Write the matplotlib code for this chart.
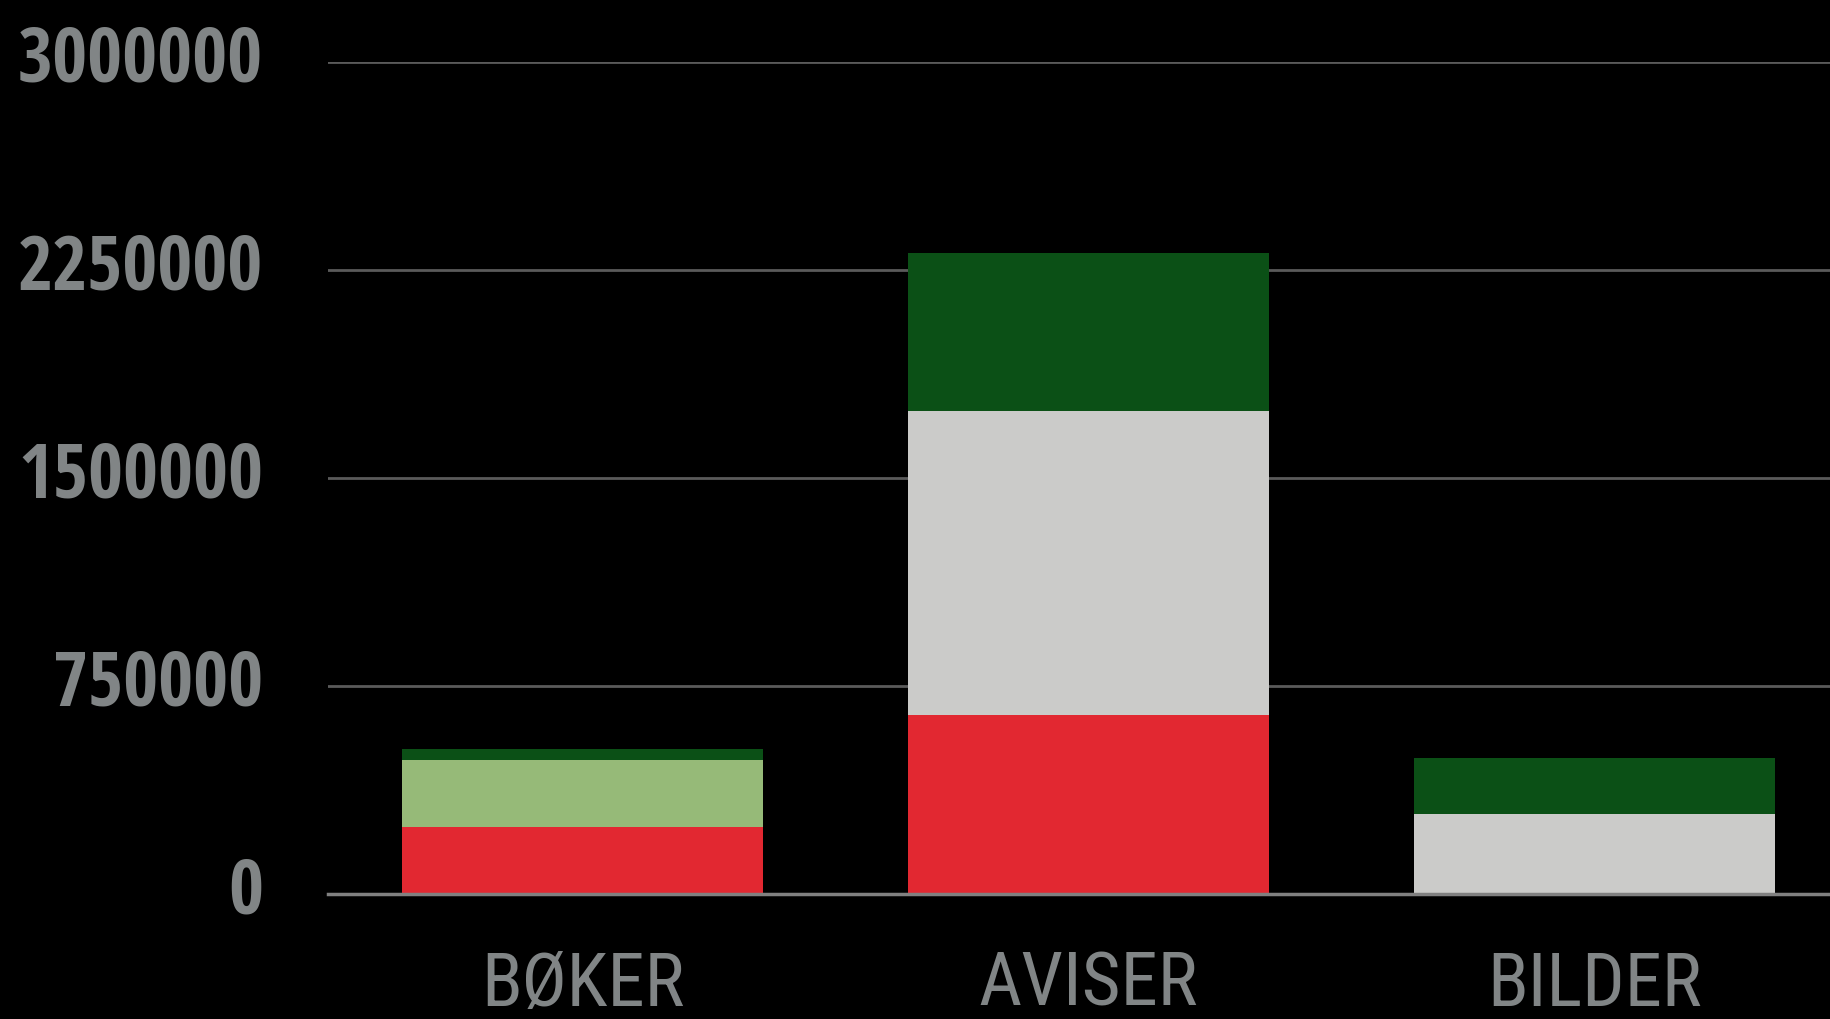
import matplotlib
matplotlib.use("Agg")
import os
import matplotlib.pyplot as plt
from matplotlib import font_manager as fm
from matplotlib.ft2font import FT2Font
from matplotlib.transforms import ScaledTranslation
import numpy as np

categories = ["BØKER", "AVISER", "BILDER"]
red_vals = [243000, 647000, 0]
lightgreen_vals = [242000, 0, 0]
gray_vals = [0, 1095000, 290000]
darkgreen_vals = [40000, 570000, 202000]
yticks = [0, 750000, 1500000, 2250000, 3000000]

series = [
    (red_vals, "#E22831"),
    (lightgreen_vals, "#96BA78"),
    (gray_vals, "#CBCBC9"),
    (darkgreen_vals, "#0B5016"),
]

fig = plt.figure(figsize=(18.31, 10.19), dpi=100, facecolor="black")
renderer = fig.canvas.get_renderer()

ALLOWED = ("DejaVu Sans", "Liberation Sans", "Noto Sans", "Roboto", "Open Sans", "Lato", "Inter")


def weight_num(w):
    return w if isinstance(w, (int, float)) else fm.weight_dict.get(w, 400)


def covers(fname, chars):
    try:
        cmap = FT2Font(fname).get_charmap()
    except Exception:
        return False
    return all(ord(c) in cmap for c in chars)


def fit_size(prop, text, target_w, target_cap_px):
    p = prop.copy()
    p.set_size(50)
    w, h, d = renderer.get_text_width_height_descent(text, p, ismath=False)
    size_w = 50 * target_w / w
    size_h = target_cap_px / 0.72 * 72 / 100
    return min(size_w, size_h)


def best_font(text, needed, target_w, target_cap, wmin, wmax):
    best = None
    seen = set()
    for f in fm.fontManager.ttflist:
        if f.fname in seen:
            continue
        seen.add(f.fname)
        if not f.name.startswith(ALLOWED):
            continue
        if "Mono" in f.name or "CJK" in f.name or "Symbol" in f.name or f.style != "normal":
            continue
        base = os.path.basename(f.fname).lower()
        if "italic" in base or "oblique" in base:
            continue
        w = weight_num(f.weight)
        if not (wmin <= w <= wmax):
            continue
        if not covers(f.fname, needed):
            continue
        try:
            p = fm.FontProperties(fname=f.fname)
            s = fit_size(p, text, target_w, target_cap)
        except Exception:
            continue
        key = s + w / 1000.0
        if best is None or key > best[2] + 0.3:
            best = (s, f.fname, key)
    return best


yb = best_font("3000000", "0123456789", 245, 67, 600, 800)
xb = best_font("BØKER", "".join(sorted(set("".join(categories)))) + "ABCDEFGHIJKLMNOPQRSTUVWXYZ", 204, 69, 400, 550)
if yb:
    yprop = fm.FontProperties(fname=yb[1]); yprop.set_size(yb[0])
else:
    yprop = fm.FontProperties(family="DejaVu Sans", weight="bold")
    yprop.set_size(fit_size(yprop, "3000000", 245, 67))
if xb:
    xprop = fm.FontProperties(fname=xb[1]); xprop.set_size(xb[0])
else:
    xprop = fm.FontProperties(family="DejaVu Sans")
    xprop.set_size(fit_size(xprop, "BØKER", 204, 69))

ax = fig.add_axes([0.1791, 0.1222, 0.8209, 0.8170])
ax.set_facecolor("black")

x = np.arange(len(categories))
bottom = np.zeros(len(categories))
for vals, col in series:
    v = np.array(vals, dtype=float)
    ax.bar(x, v, width=0.714, bottom=bottom, color=col, zorder=3, linewidth=0)
    bottom += v

ax.set_xlim(-0.503, 2.467)
ax.set_ylim(0, 3000000)
ax.set_yticks(yticks)
ax.set_yticklabels([str(t) for t in yticks])
ax.set_xticks(x)
ax.set_xticklabels(categories)
ax.yaxis.grid(True, color="#5a5a5a", linewidth=2, zorder=0)
ax.set_axisbelow(True)
for s in ["top", "right", "left"]:
    ax.spines[s].set_visible(False)
ax.spines["bottom"].set_color("#808080")
ax.spines["bottom"].set_linewidth(2.5)
ax.spines["bottom"].set_zorder(4)

ax.tick_params(axis="both", length=0, colors="#818586")
ax.tick_params(axis="y", pad=46.8)
ax.tick_params(axis="x", pad=80)

for lab in ax.get_yticklabels():
    lab.set_fontproperties(yprop)
    lab.set_color("#818586")
    lab.set_verticalalignment("baseline")
    lab.set_transform(lab.get_transform() + ScaledTranslation(0, -0.195, fig.dpi_scale_trans))
for lab in ax.get_xticklabels():
    lab.set_fontproperties(xprop)
    lab.set_color("#818586")
    lab.set_verticalalignment("baseline")

fig.savefig("out.png", dpi=100, facecolor="black")
